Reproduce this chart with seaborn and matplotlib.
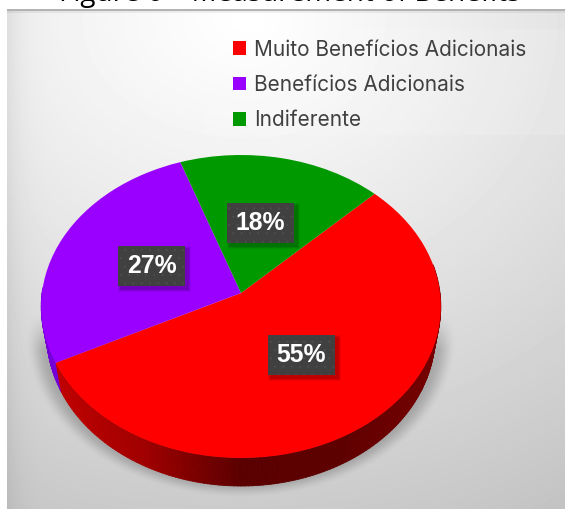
import numpy as np
import matplotlib
matplotlib.use("Agg")
import matplotlib.pyplot as plt
from matplotlib.collections import PolyCollection
from matplotlib.colors import LinearSegmentedColormap
from matplotlib.patches import Rectangle
from matplotlib.transforms import Transform
import seaborn as sns

# Survey shares
categories = ["Muito Benefícios Adicionais", "Benefícios Adicionais", "Indiferente"]
shares = [55, 27, 18]
slice_colors = ["#ff0000", "#9900ff", "#009900"]
chart_title = "Figure 6 – Measurement of Benefits"

# Canvas layout in pixels
WIDTH, HEIGHT = 565, 509
PANEL_LEFT, PANEL_TOP = 7, 9
APEX_X, APEX_Y = 241, 293
DISC_R, DISC_A, DISC_B = 199.0, 150.3, 0.0891
WALL_DEPTH, WALL_SHRINK = 28, 0.972
START_ANGLE = 44.5
LABEL_CENTERS = [(301.5, 354.5), (151.5, 266), (260, 223)]
LABEL_W, LABEL_H = 67, 40

sns.set_theme(style="white")
plt.rcParams["font.family"] = ["Liberation Sans", "DejaVu Sans"]
plt.rcParams["hatch.linewidth"] = 0.3
palette = sns.color_palette(slice_colors)


def tilt_xy(x, y):
    """Perspective projection of the unit disc onto the canvas."""
    w = 1 + DISC_B * y
    return APEX_X + DISC_R * x / w, APEX_Y - DISC_A * y / w


class DiscTilt(Transform):
    input_dims = 2
    output_dims = 2
    is_separable = False
    has_inverse = False

    def transform_non_affine(self, values):
        values = np.asarray(values)
        px, py = tilt_xy(values[:, 0], values[:, 1])
        return np.column_stack((px, py))


fig = plt.figure(figsize=(WIDTH / 100, HEIGHT / 100), dpi=100, facecolor="white")
ax = fig.add_axes([0, 0, 1, 1])

# Pie top face
wedges, _, pct_texts = ax.pie(
    shares,
    colors=palette,
    startangle=START_ANGLE,
    counterclock=False,
    radius=1,
    autopct="%.0f%%",
    wedgeprops={"linewidth": 0},
    textprops={"color": "white", "fontweight": "bold", "fontsize": 17.8},
)
ax.set_aspect("auto")
tilt = DiscTilt()
for wedge in wedges:
    wedge.set_transform(tilt + ax.transData)
    wedge.set_clip_on(False)
    wedge.set_zorder(3)

# Panel background: soft radial fade with a drop shadow under the pie
yy, xx = np.mgrid[PANEL_TOP:HEIGHT, PANEL_LEFT:WIDTH] + 0.5
x_scale = np.where(xx < 250, 680, 550)
dist = np.hypot((xx - 250) / x_scale, (yy - 20) / 480)
shade = 1 - 0.2 * np.clip(dist, 0, 1.2) ** 1.1
shade *= 1 - 0.07 * np.exp(-(xx - PANEL_LEFT) / 14)
rho = np.hypot((xx - APEX_X) / 216, (yy - 338) / 160)
shadow = np.clip((1 - rho) / 0.10, 0, 1)
shadow = shadow * shadow * (3 - 2 * shadow)
shadow *= np.clip((yy - 315) / 35, 0, 1)
shade = shade * (1 - 0.22 * shadow)
shade[:2, :] = np.minimum(shade[:2, :], 0.70)
shade[2:4, :] *= 0.94
ax.imshow(shade, cmap="gray", vmin=0, vmax=1, aspect="auto", zorder=0,
          extent=(PANEL_LEFT, WIDTH, HEIGHT, PANEL_TOP), interpolation="bilinear")

# Side wall of the pie, one quad per degree of the front rim
boundary = START_ANGLE - 360 * np.cumsum(shares) / np.sum(shares)
red_end = boundary[0] + 360  # wall colour changes here, in degrees
wall_ramp = LinearSegmentedColormap.from_list(
    "wall", [(0, "#c40000"), (0.25, "#a00000"), (0.5, "#5a0000"),
             (0.75, "#5e0000"), (1, "#760000")])
angles = np.arange(178, 372, 1.0)
quads, quad_colors = [], []
for a0, a1 in zip(angles[:-1], angles[1:]):
    t = np.radians([a0, a1])
    top_x, top_y = tilt_xy(np.cos(t), np.sin(t))
    low_x = APEX_X + (top_x - APEX_X) * WALL_SHRINK
    low_y = top_y + WALL_DEPTH
    quads.append([(top_x[0], top_y[0]), (top_x[1], top_y[1]),
                  (low_x[1], low_y[1]), (low_x[0], low_y[0])])
    if a0 < red_end:
        quad_colors.append("#7400d8")
    else:
        quad_colors.append(wall_ramp((top_x.mean() - 45) / 395))
ax.add_collection(PolyCollection(quads, facecolors=quad_colors, edgecolors=quad_colors,
                                 linewidths=0.6, zorder=2))

# Value labels on dark plates
for text, (cx, cy) in zip(pct_texts, LABEL_CENTERS):
    x0, y0 = cx - LABEL_W / 2, cy - LABEL_H / 2
    for grow, alpha in ((6, 0.06), (4, 0.09), (2, 0.12)):
        ax.add_patch(Rectangle((x0 + 3 - grow / 2, y0 + 3 - grow / 2), LABEL_W + grow, LABEL_H + grow,
                               facecolor="black", edgecolor="none", alpha=alpha, zorder=4))
    plate = Rectangle((x0, y0), LABEL_W, LABEL_H, facecolor="#404040", edgecolor="#4e4e4e",
                      linewidth=0, hatch="..", zorder=5)
    ax.add_patch(plate)
    text.set_position((cx, cy))
    text.set_ha("center")
    text.set_va("center")
    text.set_zorder(6)

# Legend on a faint lighter band
ax.add_patch(Rectangle((207, 29), WIDTH - 207, 106, facecolor="white", edgecolor="none",
                       alpha=0.14, zorder=1))
legend = ax.legend(
    wedges, categories,
    loc="upper left", bbox_to_anchor=(233, 39.5), bbox_transform=ax.transData,
    frameon=False, borderpad=0, borderaxespad=0,
    prop={"family": "Inter", "size": 15}, labelcolor="#404040",
    handlelength=0.62, handleheight=0.62, handletextpad=0.38, labelspacing=0.74,
)
for handle in legend.get_patches():
    handle.set_linewidth(0)

# Title runs off the top edge of the canvas
ax.text(59, 1, chart_title, family="Open Sans", fontsize=20.1, color="black",
        ha="left", va="baseline", clip_on=False)

ax.set_xlim(0, WIDTH)
ax.set_ylim(HEIGHT, 0)
ax.axis("off")
fig.savefig("out.png", dpi=100, facecolor="white")
